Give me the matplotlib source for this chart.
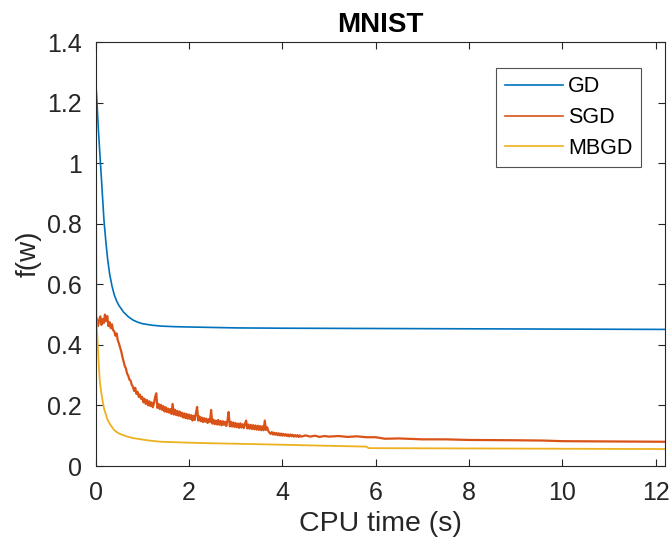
import matplotlib.pyplot as plt
import numpy as np

plt.rcParams['font.family'] = ['Liberation Sans', 'DejaVu Sans']

# GD - smooth curve
gd_time = [0, 0.03, 0.06, 0.1, 0.14, 0.18, 0.22, 0.26, 0.3, 0.35, 0.4, 0.45, 0.5, 0.6, 0.7,
           0.8, 0.9, 1.0, 1.2, 1.4, 1.7, 2.0, 3.0, 4.0, 6.0, 8.0, 10.0, 12.2]
gd_loss = [1.28, 1.20, 1.11, 1.01, 0.91, 0.81, 0.74, 0.68, 0.635, 0.595, 0.565, 0.545, 0.53, 0.508, 0.493,
           0.482, 0.475, 0.47, 0.465, 0.462, 0.46, 0.459, 0.456, 0.455, 0.454, 0.453, 0.452, 0.451]

# SGD - noisy curve
sgd_time = [0.000, 0.025, 0.050, 0.075, 0.100, 0.125, 0.150, 0.175,
            0.200, 0.225, 0.250, 0.275, 0.300, 0.325, 0.350, 0.375,
            0.400, 0.425, 0.450, 0.475, 0.500, 0.525, 0.550, 0.575,
            0.600, 0.625, 0.650, 0.675, 0.700, 0.725, 0.750, 0.775,
            0.800, 0.825, 0.850, 0.875, 0.900, 0.925, 0.950, 0.975,
            1.000, 1.025, 1.050, 1.075, 1.100, 1.125, 1.150, 1.175,
            1.200, 1.225, 1.250, 1.275, 1.300, 1.325, 1.350, 1.375,
            1.400, 1.425, 1.450, 1.475, 1.500, 1.525, 1.550, 1.575,
            1.600, 1.625, 1.650, 1.675, 1.700, 1.725, 1.750, 1.775,
            1.800, 1.825, 1.850, 1.875, 1.900, 1.925, 1.950, 1.975,
            2.000, 2.025, 2.050, 2.075, 2.100, 2.125, 2.150, 2.175,
            2.200, 2.225, 2.250, 2.275, 2.300, 2.325, 2.350, 2.375,
            2.400, 2.425, 2.450, 2.475, 2.500, 2.525, 2.550, 2.575,
            2.600, 2.625, 2.650, 2.675, 2.700, 2.725, 2.750, 2.775,
            2.800, 2.825, 2.850, 2.875, 2.900, 2.925, 2.950, 2.975,
            3.000, 3.025, 3.050, 3.075, 3.100, 3.125, 3.150, 3.175,
            3.200, 3.225, 3.250, 3.275, 3.300, 3.325, 3.350, 3.375,
            3.400, 3.425, 3.450, 3.475, 3.500, 3.525, 3.550, 3.575,
            3.600, 3.625, 3.650, 3.675, 3.700, 3.725, 3.750, 3.775,
            3.800, 3.825, 3.850, 3.875, 3.900, 3.925, 3.950, 3.975,
            4.000, 4.025, 4.050, 4.075, 4.100, 4.125, 4.150, 4.175,
            4.200, 4.225, 4.250, 4.275, 4.300, 4.325, 4.350, 4.375,
            4.4, 4.5, 4.6, 4.7, 4.8, 4.9, 5.0, 5.2, 5.4, 5.6, 5.8, 6.0, 6.2, 6.5,
            7.0, 7.5, 8.0, 9.0, 9.6, 10.0, 11.0, 12.2]
sgd_loss = [0.470, 0.488, 0.462, 0.480, 0.494, 0.466, 0.485, 0.472,
            0.500, 0.478, 0.495, 0.462, 0.475, 0.455, 0.468, 0.448,
            0.445, 0.430, 0.438, 0.415, 0.405, 0.392, 0.378, 0.360,
            0.345, 0.330, 0.322, 0.305, 0.298, 0.285, 0.282, 0.268,
            0.262, 0.248, 0.258, 0.238, 0.245, 0.228, 0.236, 0.222,
            0.228, 0.210, 0.222, 0.205, 0.218, 0.200, 0.214, 0.198,
            0.210, 0.194, 0.206, 0.228, 0.240, 0.192, 0.205, 0.188,
            0.202, 0.185, 0.198, 0.180, 0.194, 0.178, 0.190, 0.176,
            0.188, 0.172, 0.205, 0.170, 0.186, 0.168, 0.182, 0.166,
            0.180, 0.164, 0.176, 0.160, 0.174, 0.158, 0.172, 0.156,
            0.170, 0.155, 0.168, 0.150, 0.166, 0.152, 0.175, 0.195,
            0.150, 0.164, 0.148, 0.160, 0.145, 0.158, 0.146, 0.156,
            0.142, 0.155, 0.145, 0.185, 0.140, 0.153, 0.138, 0.150,
            0.137, 0.152, 0.136, 0.149, 0.134, 0.148, 0.136, 0.146,
            0.132, 0.150, 0.178, 0.131, 0.146, 0.130, 0.144, 0.129,
            0.142, 0.128, 0.140, 0.126, 0.141, 0.127, 0.138, 0.125,
            0.139, 0.150, 0.124, 0.137, 0.123, 0.136, 0.122, 0.135,
            0.121, 0.134, 0.120, 0.133, 0.119, 0.132, 0.118, 0.131,
            0.118, 0.150, 0.119, 0.128, 0.116, 0.110, 0.106, 0.112,
            0.104, 0.110, 0.103, 0.109, 0.102, 0.108, 0.101, 0.107,
            0.100, 0.106, 0.100, 0.105, 0.099, 0.104, 0.098, 0.104,
            0.098, 0.103, 0.097, 0.102, 0.097, 0.102, 0.096, 0.101,
            0.097, 0.101, 0.097, 0.100, 0.096, 0.099, 0.097, 0.099, 0.096, 0.098, 0.095, 0.095, 0.090, 0.091,
            0.088, 0.088, 0.086, 0.085, 0.084, 0.082, 0.081, 0.080]

# MBGD
mbgd_time = [0, 0.01, 0.02, 0.05, 0.07, 0.09, 0.12, 0.15, 0.18, 0.21, 0.25, 0.3, 0.39, 0.47, 0.55,
             0.68, 0.81, 1.1, 1.4, 2.0, 2.5, 3.5, 4.6, 5.8, 5.85, 8.0, 10.0, 12.2]
mbgd_loss = [1.32, 0.9, 0.47, 0.39, 0.33, 0.28, 0.245, 0.215, 0.19, 0.175, 0.155, 0.14, 0.12, 0.11, 0.104,
             0.097, 0.092, 0.085, 0.08, 0.077, 0.075, 0.072, 0.068, 0.064, 0.059, 0.058, 0.057, 0.056]

labels = ['GD', 'SGD', 'MBGD']
colors = ['#0072BD', '#D95319', '#EDB120']

fig = plt.figure(figsize=(6.7, 5.45), dpi=100)
ax = fig.add_axes([95.6 / 670, 79 / 545, 569.4 / 670, 424 / 545])

ax.plot(gd_time, gd_loss, color=colors[0], lw=1.2, label=labels[0])
ax.plot(sgd_time, sgd_loss, color=colors[1], lw=1.6, label=labels[1])
ax.plot(mbgd_time, mbgd_loss, color=colors[2], lw=1.3, label=labels[2])

ax.set_xlim(0, 12.2)
ax.set_ylim(0, 1.4)
ax.set_xticks([0, 2, 4, 6, 8, 10, 12])
ax.set_yticks([0, 0.2, 0.4, 0.6, 0.8, 1.0, 1.2, 1.4])
ax.set_yticklabels(['0', '0.2', '0.4', '0.6', '0.8', '1', '1.2', '1.4'])

axis_col = '#262626'
for s in ax.spines.values():
    s.set_color(axis_col)
    s.set_linewidth(0.8)
ax.tick_params(direction='in', length=5, width=0.8, colors=axis_col, labelsize=18,
               top=True, right=True)
ax.tick_params(axis='x', pad=11)
ax.tick_params(axis='y', pad=10)

ax.set_xlabel('CPU time (s)', fontsize=20.5, color=axis_col, labelpad=4)
ax.set_ylabel('f(w)', fontsize=20, color=axis_col, labelpad=4)
ax.set_title('MNIST', fontsize=20, fontweight='bold', color='black', pad=7)

leg = ax.legend(loc='upper right', bbox_to_anchor=(0.958, 0.939), fontsize=15.5, frameon=True,
                fancybox=False, edgecolor=axis_col, handlelength=2.7, handletextpad=0.25,
                borderpad=0.4, labelspacing=0.45, borderaxespad=0)
leg.get_frame().set_linewidth(0.8)
for h in leg.get_lines():
    h.set_linewidth(1.2)

fig.savefig('out.png', dpi=100)
